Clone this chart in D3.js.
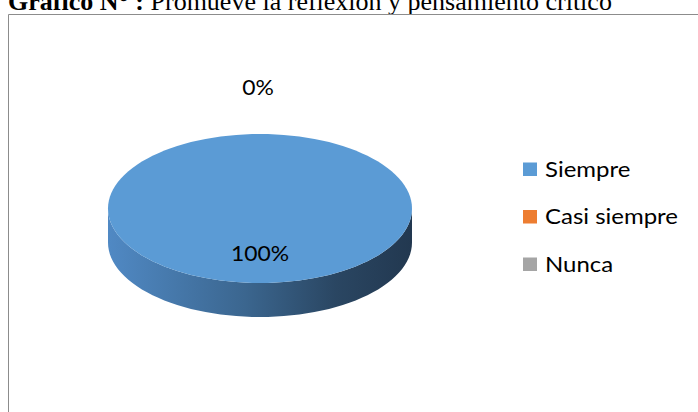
<!DOCTYPE html>
<html><head><meta charset="utf-8">
<script src="https://cdn.jsdelivr.net/npm/d3@7"></script>
<style>html,body{margin:0;padding:0;background:#fff;overflow:hidden}</style>
</head><body>
<svg id="c" width="698" height="412"></svg>
<script>
const categories = ["Siempre", "Casi siempre", "Nunca"];
const values = [100, 0, 0];
const labels = ["100%", "0%", "0%"];
const colors = ["#5b9bd5", "#ed7d31", "#a5a5a5"];
const titleBold = "Gráfico N° : ";
const titleRest = "Promueve la reflexión y pensamiento crítico";

const svg = d3.select("#c");
const W = 698, H = 412;

// title (clipped at top like the reference)
const t = svg.append("text").attr("x", 8).attr("y", 10)
  .attr("font-family", "Liberation Serif, Times New Roman, serif").attr("font-size", 26).attr("fill", "#000");
t.append("tspan").attr("font-weight", "bold").text(titleBold);
t.append("tspan").text(titleRest);

// frame
svg.append("path").attr("d", `M8.5,${H} L8.5,14.5 L${W},14.5`)
  .attr("fill", "none").attr("stroke", "#8c8c8c").attr("stroke-width", 1);

const cx = 260, cy = 208.5, rx = 152, ry = 74.5, depth = 34;

const pie = d3.pie().sort(null).value(d => d)(values);

const defs = svg.append("defs");
const grad = defs.append("linearGradient").attr("id", "side")
  .attr("gradientUnits", "userSpaceOnUse").attr("x1", cx - rx).attr("x2", cx + rx).attr("y1", 0).attr("y2", 0);
grad.append("stop").attr("offset", "0").attr("stop-color", "#5089c4");
grad.append("stop").attr("offset", "0.45").attr("stop-color", "#3b668f");
grad.append("stop").attr("offset", "0.75").attr("stop-color", "#2a4662");
grad.append("stop").attr("offset", "1").attr("stop-color", "#223850");

const px = a => cx + rx * Math.sin(a);
const py = (a, dy) => cy - ry * Math.cos(a) + (dy || 0);

function sidePath(s, e) {
  const n = 60; let d = "";
  for (let i = 0; i <= n; i++) { const a = s + (e - s) * i / n; d += (i ? "L" : "M") + px(a) + "," + py(a); }
  for (let i = n; i >= 0; i--) { const a = s + (e - s) * i / n; d += "L" + px(a) + "," + py(a, depth); }
  return d + "Z";
}
function topPath(s, e) {
  const n = 120;
  if (e - s >= 2 * Math.PI - 1e-9) {
    let d = ""; for (let i = 0; i <= n; i++) { const a = s + (e - s) * i / n; d += (i ? "L" : "M") + px(a) + "," + py(a); }
    return d + "Z";
  }
  let d = `M${cx},${cy}`;
  for (let i = 0; i <= n; i++) { const a = s + (e - s) * i / n; d += "L" + px(a) + "," + py(a); }
  return d + "Z";
}

// sides (front half only)
pie.forEach((p, i) => {
  if (p.endAngle - p.startAngle <= 0) return;
  const s = Math.max(p.startAngle, Math.PI / 2), e = Math.min(p.endAngle, 3 * Math.PI / 2);
  if (e > s) svg.append("path").attr("d", sidePath(s, e)).attr("fill", i === 0 ? "url(#side)" : d3.color(colors[i]).darker(1));
});
// tops
pie.forEach((p, i) => {
  if (p.endAngle - p.startAngle <= 0) return;
  svg.append("path").attr("d", topPath(p.startAngle, p.endAngle)).attr("fill", colors[i]);
});

// labels
const seen = [];
pie.forEach((p, i) => {
  const mid = (p.startAngle + p.endAngle) / 2;
  const inside = (p.endAngle - p.startAngle) > 0;
  const k = inside ? 0.6 : 1.63;
  const x = inside ? cx + rx * k * Math.sin(mid) : cx - 2, y = cy - ry * k * Math.cos(mid);
  const key = Math.round(x) + "," + Math.round(y);
  if (seen.includes(key)) return; seen.push(key);
  svg.append("text").attr("x", x).attr("y", y).attr("dy", "0.35em").attr("text-anchor", "middle")
    .attr("font-family", "Lato, Carlito, Calibri, sans-serif").attr("font-size", 22)
    .attr("transform", `translate(${x},0) scale(1.04,1) translate(${-x},0)`)
    .attr("fill", "#000").text(labels[i]);
});

// legend
const lg = svg.append("g").attr("transform", "translate(523,162.5)");
categories.forEach((c, i) => {
  const g = lg.append("g").attr("transform", `translate(0,${i * 47.5})`);
  g.append("rect").attr("width", 14).attr("height", 13.5).attr("fill", colors[i]);
  g.append("text").attr("x", 22).attr("y", 14).attr("font-family", "Lato, Carlito, Calibri, sans-serif")
    .attr("transform", "translate(22,0) scale(1.09,1) translate(-22,0)")
    .attr("font-size", 22).attr("fill", "#000").text(c);
});
</script>
</body></html>
